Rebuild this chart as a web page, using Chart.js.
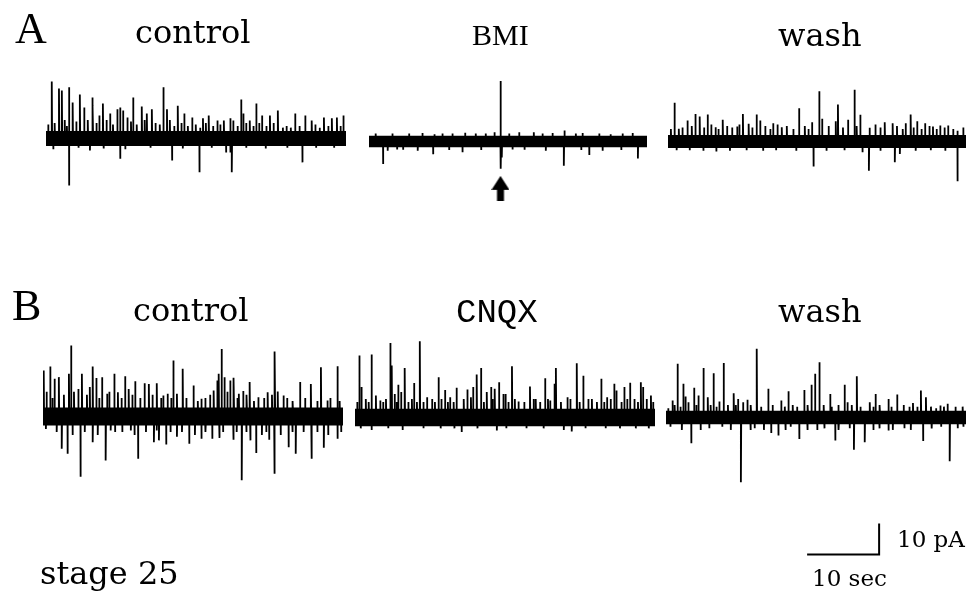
<!DOCTYPE html>
<html>
<head>
<meta charset="utf-8">
<script src="https://cdn.jsdelivr.net/npm/chart.js@4.4.1/dist/chart.umd.min.js"></script>
<style>
  html, body { margin: 0; padding: 0; background: #fff; overflow: hidden; }
  #page { position: relative; width: 966px; height: 591px; overflow: hidden; }
  #page canvas { position: absolute; }
  #labels { position: absolute; left: 0; top: 0; }
  .serif { font-family: "DejaVu Serif", serif; font-size: 32px; fill: #000; }
  .caps { font-family: "Liberation Serif", serif; fill: #000; }
  .small { font-family: "DejaVu Serif", serif; font-size: 23px; fill: #000; }
</style>
</head>
<body>
<div id="page">
  <svg id="labels" width="966" height="591">
    <text class="caps" x="15" y="43" font-size="44">A</text>
    <text class="serif" x="135" y="43">control</text>
    <text class="caps" x="472" y="45" font-size="30">BMI</text>
    <text class="serif" x="778" y="46">wash</text>
    <text class="caps" x="12" y="320" font-size="44">B</text>
    <text class="serif" x="133" y="321">control</text>
    <text x="456" y="322" font-family="Liberation Mono" font-size="34" fill="#000">CNQX</text>
    <text class="serif" x="778" y="322">wash</text>
    <text class="serif" x="40" y="584">stage 25</text>
    <text class="small" x="897" y="547">10 pA</text>
    <text class="small" x="812" y="586">10 sec</text>
  </svg>
</div>
<script>
// Events: [time in s, peak in pA from baseline]
const aControlEvents = [
  [0.8, 18.4], [1.8, 16.1], [2.2, 15.5], [3.2, 16.5], [3.2, -15.2], [3.7, 11.6],
  [4.7, 14.2], [5.3, 10.0], [6.1, -3.9], [6.4, 13.2], [6.5, 10.6], [7.4, 7.4],
  [7.9, 11.3], [8.9, 8.1], [9.9, 9.4], [10.3, 10.0], [10.3, -6.5], [10.7, 9.0],
  [11.3, 6.8], [12.1, 13.2], [13.3, 10.3], [14.0, 8.1], [14.7, 9.4], [16.3, 16.5],
  [16.8, 9.4], [17.5, -7.1], [18.3, 10.6], [19.2, 8.1], [20.3, 6.8], [21.3, -10.9],
  [21.8, 6.5], [22.6, 7.4], [23.8, 5.8], [24.7, 5.8], [25.0, -4.5], [25.6, 6.5],
  [25.6, -4.5], [25.8, -10.9], [26.0, 5.8], [27.1, 12.6], [27.4, 8.1], [28.3, 5.8],
  [29.2, 11.3], [30.0, 7.4], [31.1, 7.4], [32.2, 9.0], [32.9, 3.5], [34.6, 8.1],
  [35.6, -7.7], [36.0, 7.4], [36.9, 5.8], [38.6, 6.8], [39.7, 6.5], [40.4, 6.8],
  [41.3, 7.4]
];
const aControlSmall = [
  [0.3, 4.5], [1.2, 5.0], [2.6, 6.0], [2.9, 4.0], [4.2, 5.5], [5.8, 6.0], [7.0, 5.0],
  [8.4, 6.0], [9.3, 4.5], [11.8, 5.5], [12.6, 4.5], [13.7, 6.0], [15.2, 5.0], [15.8, 4.5],
  [17.2, 6.0], [17.8, 4.0], [18.8, 5.0], [19.7, 4.0], [20.8, 4.5], [21.4, 3.5], [22.2, 5.0],
  [23.2, 4.0], [24.2, 4.5], [26.6, 4.0], [27.8, 5.0], [28.8, 4.0], [29.6, 5.0], [30.6, 4.0],
  [31.6, 5.0], [33.4, 4.0], [34.0, 3.5], [35.2, 4.0], [37.4, 4.5], [38.0, 3.5], [39.2, 4.0],
  [40.9, 4.0], [1.0, -3.5], [4.5, -3.0], [8.0, -3.2], [11.0, -3.5], [14.5, -3.0],
  [19.0, -3.2], [23.0, -3.0], [27.8, -3.0], [30.5, -3.2], [33.5, -3.0], [37.5, -3.0], [40.0, -3.0]
];
const bmiEvents = [
  [2.1, -8.5], [5.1, -3.1], [9.6, -4.8], [9.8, 2.7], [14.0, -4.0], [14.4, 3.3],
  [19.7, 22.7], [19.75, -10.2], [19.9, -6.0], [23.3, -3.1], [24.7, 3.5],
  [29.2, -9.1], [29.3, 4.1], [33.0, -5.1], [36.2, 2.7], [40.3, -6.4]
];
const bmiSmall = [
  [1.0, 3.0], [3.5, 3.0], [6.0, 3.0], [8.0, 3.2], [11.0, 3.0], [12.5, 3.0], [16.0, 3.0],
  [17.5, 3.0], [18.8, 3.5], [21.0, 3.0], [22.5, 3.5], [26.0, 3.0], [27.5, 3.2], [31.0, 3.0],
  [32.0, 3.2], [34.5, 3.0], [38.0, 3.0], [39.5, 3.2], [2.8, -3.5], [4.2, -3.0], [7.3, -3.5],
  [12.0, -3.2], [16.8, -3.2], [21.5, -3.0], [26.5, -3.5], [31.8, -3.2], [35.0, -3.5], [37.8, -3.2]
];
const aWashEvents = [
  [0.9, 12.5], [1.5, 4.1], [2.7, 6.8], [3.8, 8.9], [4.4, 8.1], [5.5, 8.7],
  [6.6, 4.6], [6.7, -3.2], [7.6, 7.0], [9.6, 4.8], [10.4, 8.9], [11.2, 5.7],
  [12.3, 8.7], [12.8, 6.8], [14.6, 5.9], [15.8, 4.6], [18.2, 10.7], [20.0, 6.2],
  [20.2, -8.1], [21.0, 16.2], [21.4, 7.3], [23.3, 6.5], [23.6, 11.9], [25.0, 7.0],
  [25.9, 16.7], [26.7, 8.6], [27.0, -3.5], [27.9, -9.4], [28.0, 4.4], [30.1, 6.2],
  [31.2, 5.9], [31.5, -6.7], [32.2, -4.0], [33.0, 5.9], [33.7, 8.7], [34.6, 6.5],
  [35.7, 5.9], [36.8, 4.8], [37.8, 5.2], [38.9, 5.2], [40.2, 3.5], [40.2, -12.8]
];
const aWashSmall = [
  [0.4, 4.0], [2.0, 4.5], [3.3, 5.0], [5.0, 4.5], [6.0, 5.5], [7.0, 4.0], [8.2, 5.0],
  [8.9, 4.5], [9.9, 5.5], [11.7, 4.5], [13.5, 5.0], [14.2, 4.0], [15.2, 5.5], [16.5, 5.0],
  [17.4, 4.0], [19.0, 5.0], [19.5, 4.0], [22.3, 5.0], [24.3, 4.5], [26.2, 5.0], [28.8, 5.5],
  [29.5, 4.5], [31.8, 5.0], [32.6, 4.0], [34.1, 4.5], [35.2, 4.0], [36.3, 5.0], [37.3, 4.0],
  [38.4, 4.5], [39.6, 4.0], [41.0, 4.5], [1.2, -2.8], [3.0, -2.8], [4.9, -3.0], [8.6, -3.0],
  [10.9, -2.8], [13.2, -3.0], [15.0, -2.8], [17.8, -3.0], [22.0, -3.0], [24.5, -2.8],
  [29.5, -3.0], [34.4, -3.0], [36.5, -2.8], [38.5, -3.0]
];
const bControlEvents = [
  [0.1, 14.8], [1.0, 16.1], [1.6, 12.2], [2.2, 12.7], [2.6, -10.4], [3.4, -12.0],
  [3.6, 13.8], [3.9, 22.9], [4.9, 8.9], [5.2, -19.4], [5.4, 13.8], [6.5, 9.5],
  [6.9, 16.1], [6.9, -8.3], [7.4, 12.4], [8.2, 12.7], [8.7, -14.2], [8.9, 7.3],
  [9.4, -4.5], [9.9, 13.8], [10.4, 7.8], [11.4, 13.0], [11.9, 8.9], [12.2, -4.5],
  [12.8, 11.4], [13.2, -13.6], [14.1, 10.7], [14.7, 10.5], [15.4, -8.3], [15.8, 10.7],
  [16.1, -7.7], [16.7, 6.8], [17.1, -9.0], [17.3, 7.3], [18.1, 18.1], [18.6, 7.3],
  [18.6, -6.5], [19.4, 15.4], [20.3, -8.8], [20.9, 10.0], [22.0, 5.7], [22.0, -7.2],
  [23.5, -7.2], [23.7, 8.4], [24.2, 11.6], [24.4, 13.8], [24.5, -6.9], [24.8, 21.8],
  [25.2, 12.7], [26.0, 11.6], [26.4, -7.5], [26.5, 12.5], [27.2, 7.3], [27.6, -20.6],
  [27.8, 8.2], [28.7, 11.1], [28.8, -7.7], [29.6, -11.8], [29.9, 6.2], [31.2, 7.8],
  [31.4, -7.5], [32.1, -18.5], [32.2, 21.0], [32.6, 8.1], [33.4, 6.8], [34.1, -9.9],
  [35.1, -12.0], [35.7, 11.1], [37.2, 10.5], [37.3, -13.6], [38.6, 15.9], [39.0, -10.1],
  [39.5, 5.2], [40.9, 16.2], [40.9, -7.2]
];
const bControlSmall = [
  [0.5, 8], [1.3, 6], [2.9, 7], [4.3, 8], [6.1, 7], [7.8, 6], [9.2, 8], [10.9, 6], [12.4, 7],
  [13.5, 6], [15.2, 7], [16.4, 6], [17.8, 6], [19.9, 6], [21.5, 5], [22.5, 6], [23.2, 7],
  [25.6, 8], [27.0, 6], [28.3, 7], [29.3, 5], [30.7, 6], [31.8, 7], [33.9, 6], [34.7, 5],
  [36.4, 6], [38.1, 5], [39.9, 6], [41.2, 5], [0.4, -4], [1.9, -5], [4.1, -6], [5.8, -5],
  [7.6, -6], [10.0, -5], [11.0, -5], [12.7, -6], [14.3, -5], [15.8, -4.5], [17.7, -5],
  [19.3, -5], [21.1, -6], [22.6, -5], [25.0, -5], [26.9, -5], [28.2, -5], [30.4, -6],
  [31.0, -5], [33.0, -6], [34.6, -5], [36.2, -5], [38.1, -5], [39.6, -6], [41.4, -5]
];
const cnqxEvents = [
  [0.6, 20.0], [0.9, 9.8], [2.3, 20.3], [2.3, -4.0], [2.9, 7.1], [3.5, 5.5],
  [4.9, 24.0], [5.1, 16.8], [5.5, 7.6], [6.0, 10.6], [6.4, 8.2], [6.9, 16.0],
  [8.2, 11.1], [9.0, 24.6], [10.0, 6.5], [10.7, 6.0], [11.6, 13.0], [12.5, 8.9],
  [13.2, 6.5], [14.1, 9.6], [14.8, -4.7], [15.6, 9.0], [16.1, 6.5], [16.4, 9.8],
  [16.9, 13.9], [17.5, 16.0], [18.3, 8.2], [18.9, 9.8], [19.4, 9.3], [19.7, -4.2],
  [20.0, 11.4], [20.6, 7.6], [20.9, 7.6], [21.8, 16.5], [22.7, 5.2], [24.3, 10.0],
  [25.1, 6.0], [26.4, 12.7], [27.1, 5.5], [27.7, 10.9], [27.9, 16.0], [29.5, 6.5],
  [30.1, -4.5], [30.8, 17.5], [31.7, 13.5], [32.9, 6.0], [34.2, 12.5], [35.0, 6.5],
  [36.0, 10.9], [36.3, 8.7], [37.4, 9.8], [38.2, 11.2], [38.8, 6.0], [39.7, 11.4],
  [40.0, 9.8], [41.1, 7.1]
];
const cnqxSmall = [
  [0.3, 5], [1.5, 6], [1.9, 5], [3.9, 5], [4.3, 6], [5.8, 5], [7.4, 5], [7.9, 6], [8.6, 5],
  [9.5, 5], [11.1, 5], [12.0, 6], [12.9, 5], [13.7, 5], [15.1, 6], [17.9, 5], [19.1, 6],
  [21.3, 5], [22.2, 6], [23.5, 5], [24.8, 6], [25.7, 5], [26.8, 6], [28.6, 5], [29.9, 6],
  [31.2, 5], [32.4, 6], [33.6, 5], [34.6, 5], [35.5, 6], [37.0, 5], [37.8, 6], [39.3, 5],
  [40.5, 6], [41.4, 5], [0.8, -3.5], [4.6, -3.5], [6.6, -4], [9.5, -3.5], [11.9, -3.5],
  [13.8, -3.5], [17.0, -3.5], [21.0, -3.5], [23.8, -3.5], [26.2, -3.5], [29.0, -4],
  [32.0, -3.5], [34.8, -3.5], [36.8, -3.5], [39.0, -3.5], [40.8, -3.5]
];
const bWashEvents = [
  [0.9, 5.5], [1.6, 17.3], [2.4, 10.9], [2.7, 6.8], [3.1, 4.9], [3.5, -8.3],
  [3.9, 9.6], [4.5, 7.1], [5.2, 16.0], [5.8, 6.5], [6.6, 14.3], [7.4, 5.2],
  [8.0, 17.6], [9.4, 7.8], [10.0, 6.0], [10.4, -20.9], [10.7, 4.9], [11.3, 5.7],
  [12.6, 22.2], [14.2, 9.3], [15.6, -5.8], [16.0, 5.5], [17.0, 8.5], [18.5, -6.9],
  [19.2, 8.9], [20.2, 10.6], [20.7, 14.1], [21.3, 17.8], [22.8, 7.6], [23.5, -7.4],
  [24.8, 10.6], [25.2, 4.9], [26.1, -10.4], [26.5, 13.3], [27.6, -8.0], [28.3, 4.9],
  [29.1, 7.6], [30.9, 6.0], [30.9, -4.2], [32.1, 7.4], [34.3, 4.7], [35.4, 8.7],
  [35.7, -7.6], [36.1, 6.5], [38.1, 3.9], [39.1, 4.4], [39.4, -14.1]
];
const bWashSmall = [
  [0.3, 3], [1.2, 4], [2.0, 3.5], [4.2, 4], [6.2, 4], [7.0, 3.5], [8.6, 4], [9.7, 4],
  [11.8, 4], [13.2, 3.5], [14.8, 4], [16.5, 3.5], [17.6, 4], [18.2, 3.5], [19.7, 4],
  [21.9, 4], [23.0, 3.5], [23.9, 4], [25.8, 4], [27.0, 3.5], [28.8, 3.5], [29.7, 4],
  [31.3, 3.5], [33.0, 4], [33.8, 3.5], [34.9, 3.5], [36.8, 3.5], [37.5, 3], [38.6, 3.5],
  [40.2, 3.5], [41.2, 3.5], [0.6, -3], [2.2, -4], [4.8, -4], [6.0, -3.5], [7.8, -3],
  [9.0, -4], [11.7, -4], [12.3, -3.5], [13.6, -4], [14.6, -5], [16.6, -4], [17.3, -3],
  [19.6, -4], [21.0, -4], [22.0, -3.5], [24.0, -4], [25.5, -3.5], [28.8, -4], [29.6, -3.5],
  [31.5, -4], [33.1, -3.5], [34.0, -4], [36.9, -3.5], [38.2, -3], [40.5, -3.5], [41.3, -3]
];

// Baseline noise half-width per trace, pA
const noiseBand = [2.4, 2.2, 2.1, 2.9, 2.8, 2.2];
const traceEvents = [
  aControlEvents.concat(aControlSmall),
  bmiEvents.concat(bmiSmall),
  aWashEvents.concat(aWashSmall),
  bControlEvents.concat(bControlSmall),
  cnqxEvents.concat(cnqxSmall),
  bWashEvents.concat(bWashSmall)
];

// BMI-evoked event marked by the arrow, and the scale bar
const arrowMark = [19.7, -17.6];
const scaleBarSec = 10;
const scaleBarPa = 10;
const scaleBarOrigin = [19.6, -44.2];

// Layout: 10 sec = 72 px, 10 pA = 31 px
const SEC_PX = 7.2, PA_PX = 3.1;
const panels = [
  { left: 46,    top: 60.5,  width: 300, yMin: -25, yMax: 25 },
  { left: 357.5, top: 63.5,  width: 300, yMin: -25, yMax: 25 },
  { left: 667.5, top: 63.5,  width: 300, yMin: -25, yMax: 25 },
  { left: 42.5,  top: 338.5, width: 300, yMin: -25, yMax: 25 },
  { left: 355,   top: 339.5, width: 300, yMin: -25, yMax: 25 },
  { left: 666,   top: 339.5, width: 300, yMin: -55, yMax: 25 }
];
const INK = "#000";

// Arrow glyph for the marked event
function makeArrow() {
  const c = document.createElement("canvas");
  c.width = 18; c.height = 25;
  const g = c.getContext("2d");
  g.fillStyle = INK;
  g.beginPath();
  g.moveTo(9, 0); g.lineTo(18, 14); g.lineTo(12.5, 14); g.lineTo(12.5, 25);
  g.lineTo(5.5, 25); g.lineTo(5.5, 14); g.lineTo(0, 14);
  g.closePath();
  g.fill();
  return c;
}

// Each event becomes a vertical excursion from baseline
function spikePath(events, span) {
  const pts = [{ x: 0, y: 0 }];
  events.slice().sort((a, b) => a[0] - b[0]).forEach(([t, amp]) => {
    pts.push({ x: t, y: 0 }, { x: t, y: amp }, { x: t + 0.05, y: 0 });
  });
  pts.push({ x: span, y: 0 });
  return pts;
}

const page = document.getElementById("page");

panels.forEach((p, i) => {
  const span = p.width / SEC_PX;
  const canvas = document.createElement("canvas");
  canvas.width = p.width;
  canvas.height = (p.yMax - p.yMin) * PA_PX;
  canvas.style.left = p.left + "px";
  canvas.style.top = p.top + "px";
  page.insertBefore(canvas, document.getElementById("labels"));

  const n = noiseBand[i];
  const datasets = [
    { data: [{ x: 0, y: n }, { x: span, y: n }], borderWidth: 0, fill: false },
    { data: [{ x: 0, y: -n }, { x: span, y: -n }], borderWidth: 0, fill: "-1", backgroundColor: INK },
    { data: spikePath(traceEvents[i], span), borderColor: INK, borderWidth: 1.8,
      borderJoinStyle: "bevel", fill: false }
  ];

  if (i === 1) {
    datasets.push({
      data: [{ x: arrowMark[0], y: arrowMark[1] }],
      showLine: false, pointRadius: 10, pointStyle: makeArrow()
    });
  }
  if (i === 5) {
    const [x0, y0] = scaleBarOrigin;
    datasets.push({
      data: [{ x: x0, y: y0 }, { x: x0 + scaleBarSec, y: y0 }, { x: x0 + scaleBarSec, y: y0 + scaleBarPa }],
      borderColor: INK, borderWidth: 2, fill: false
    });
  }

  new Chart(canvas, {
    type: "line",
    data: { datasets: datasets },
    options: {
      responsive: false,
      animation: false,
      events: [],
      layout: { padding: 0 },
      elements: { point: { radius: 0 }, line: { tension: 0 } },
      plugins: { legend: { display: false }, tooltip: { enabled: false } },
      scales: {
        x: { type: "linear", min: 0, max: span, display: false },
        y: { min: p.yMin, max: p.yMax, display: false }
      }
    }
  });
});
</script>
</body>
</html>
